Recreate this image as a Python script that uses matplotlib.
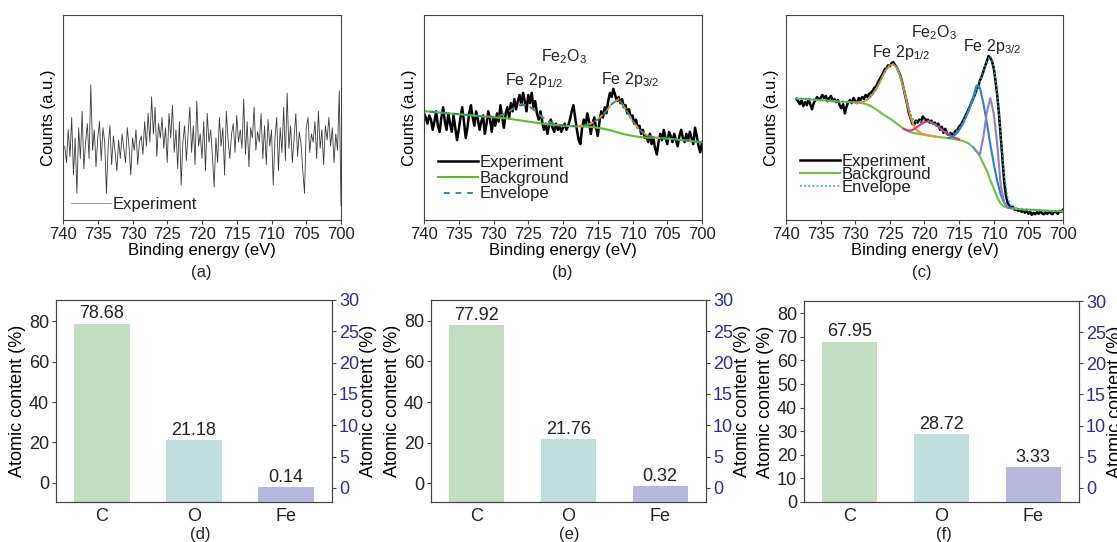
import numpy as np
import matplotlib
matplotlib.use("Agg")
from matplotlib import pyplot as plt

plt.rcParams["font.family"] = ["Liberation Sans", "DejaVu Sans"]
plt.rcParams["mathtext.fontset"] = "custom"
plt.rcParams["mathtext.rm"] = "Liberation Sans"
plt.rcParams["mathtext.it"] = "Liberation Sans:italic"
plt.rcParams["mathtext.bf"] = "Liberation Sans:bold"
plt.rcParams["axes.edgecolor"] = "#444444"
plt.rcParams["text.color"] = "#222222"
plt.rcParams["xtick.color"] = "#444444"
plt.rcParams["ytick.color"] = "#444444"
plt.rcParams["xtick.labelcolor"] = "#222222"
plt.rcParams["ytick.labelcolor"] = "#222222"

# ---- panel (a): survey of Fe 2p region, 739.75 -> 700 eV, 0.25 eV step (a.u.) ----
exp_a = [36, 28, 44, 31, 50, 22, 40, 13,
         45, 30, 53, 25, 38, 47, 30, 66,
         34, 44, 26, 40, 48, 29, 45, 38,
         13, 36, 46, 27, 41, 33, 24, 39,
         30, 42, 35, 28, 45, 36, 22, 40,
         34, 44, 27, 38, 41, 32, 48, 36,
         52, 38, 60, 42, 55, 31, 47, 40,
         50, 35, 45, 28, 52, 40, 56, 33,
         44, 25, 48, 17, 38, 46, 29, 42,
         55, 33, 46, 27, 58, 36, 42, 30,
         48, 24, 52, 38, 44, 31, 16, 40,
         28, 50, 36, 45, 22, 53, 39, 30,
         42, 47, 33, 51, 38, 44, 35, 59,
         32, 48, 26, 45, 40, 55, 34, 43,
         38, 52, 30, 46, 27, 49, 36, 44,
         17, 40, 50, 24, 45, 33, 55, 29,
         62, 35, 46, 28, 40, 52, 31, 43,
         37, 24, 13, 45, 50, 33, 42, 38,
         48, 30, 53, 35, 44, 27, 46, 39,
         50, 36, 45, 28, 42, 34, 63, 7]

# ---- panel (b): 740 -> 700 eV ----
exp_b = [52, 50, 47, 51, 49, 44, 48, 53, 46, 43, 50, 55, 48, 44, 52, 47,
         43, 51, 45, 39, 44, 50, 55, 48, 40, 45, 52, 56, 50, 46, 53, 49,
         44, 48, 51, 42, 47, 53, 49, 43, 50, 46, 52, 48, 56, 50, 45, 52,
         55, 50, 57, 53, 59, 54, 58, 61, 56, 62, 58, 53, 61, 57, 62, 55,
         58, 52, 49, 53, 48, 44, 47, 42, 46, 49, 45, 43, 47, 44, 46, 43,
         45, 47, 44, 46, 49, 53, 56, 50, 44, 39, 37, 45, 49, 46, 52, 48,
         42, 47, 50, 45, 41, 48, 53, 50, 55, 52, 58, 62, 60, 64, 61, 58,
         60, 57, 59, 55, 56, 52, 54, 50, 51, 47, 49, 45, 46, 42, 44, 40,
         41, 38, 42, 37, 40, 35, 32, 38, 42, 39, 44, 40, 37, 43, 41, 38,
         42, 39, 36, 41, 44, 40, 38, 42, 39, 43, 40, 37, 45, 41, 36, 33, 38]
bg_b = [53.1, 52.8, 52.5, 52.2, 51.9, 51.6, 51.3, 51.0, 50.7, 50.4, 50.1,
        49.8, 49.5, 49.0, 48.5, 48.0, 47.5, 47.0, 46.6, 46.3, 46.0, 45.8,
        45.7, 45.6, 45.4, 45.0, 44.4, 43.6, 42.6, 41.7, 41.0, 40.5, 40.2,
        40.1, 40.0, 39.7, 39.4, 39.0, 38.7, 38.3, 38.0]
env_b = [53.1, 52.8, 52.5, 52.2, 51.9, 51.6, 51.3, 51.0, 50.7, 50.4, 50.4,
         50.9, 52.5, 54.7, 56.4, 55.8, 53.3, 50.1, 47.8, 46.6, 46.0, 45.8,
         45.7, 46.1, 47.0, 49.0, 52.3, 56.5, 59.0, 54.2, 48.5, 44.0, 41.4,
         40.4, 40.0, 39.7, 39.4, 39.0, 38.7, 38.3, 38.0]
p12_b = [50.5, 50.4, 50.9, 52.5, 54.7, 56.4, 55.8, 53.3, 50.1, 47.8, 46.6, 46.0]   # 731 -> 720
p32_b = [45.7, 46.1, 47.0, 49.0, 52.3, 56.5, 59.0, 54.2, 48.5, 44.0, 41.4, 40.4, 40.0]  # 718 -> 706

# ---- panel (c): 738.5 -> 700 eV ----
exp_c = [59.0, 58.0, 56.5, 58.5, 55.5, 57.5, 56.0, 59.0, 56.5, 54.0, 57.0, 58.5,
         60.0, 58.5, 59.5, 61.0, 59.5, 60.5, 58.0, 59.5, 60.5, 58.0, 59.0, 57.5,
         58.5, 56.0, 54.5, 56.5, 52.0, 55.5, 57.5, 58.5, 57.0, 59.5, 58.0, 57.0,
         59.5, 58.5, 60.0, 59.0, 61.0, 60.0, 61.5, 62.0, 63.0, 64.5, 65.0, 67.0,
         68.5, 70.0, 71.5, 73.5, 74.0, 75.5, 75.0, 76.5, 77.0, 75.5, 74.5, 72.5,
         70.5, 67.5, 64.0, 60.0, 56.5, 52.0, 49.5, 47.0, 46.5, 48.5, 47.5, 49.0,
         48.0, 50.5, 49.5, 48.5, 49.0, 47.5, 48.5, 47.0, 47.5, 46.0, 47.0, 44.0,
         45.5, 42.5, 44.5, 42.0, 41.5, 42.5, 41.5, 42.5, 43.5, 44.0, 45.5, 46.5,
         48.0, 49.5, 51.5, 53.0, 55.0, 57.0, 59.0, 61.0, 63.5, 65.0, 68.0, 70.0,
         72.5, 75.0, 77.5, 80.0, 79.0, 77.5, 74.0, 68.0, 61.0, 52.0, 41.0, 30.0,
         19.0, 12.0, 8.5, 7.0, 6.0, 6.5, 5.0, 5.5, 4.5, 5.0, 4.0, 4.5,
         3.5, 4.5, 3.0, 4.0, 2.5, 3.5, 2.8, 3.8, 3.0, 4.2, 3.2, 2.8,
         3.8, 3.0, 4.0, 3.2, 2.8, 4.3, 3.8, 3.0, 4.5, 4.0, 5.0]
bg_c = [59.2, 59.1, 59.0, 58.9, 58.8, 58.7, 58.6, 58.4, 58.3, 58.2, 58.0, 57.9,
        57.8, 57.7, 57.6, 57.5, 57.4, 57.3, 57.2,
        57.0, 56.6, 56.0, 55.1, 54.0, 52.8, 51.6, 50.5, 49.5, 48.3, 47.0, 45.7,
        44.5, 43.5, 42.8, 42.4, 42.1, 41.8, 41.5, 41.2, 41.0, 40.7, 40.5, 40.3,
        40.1, 39.9, 39.6, 39.3, 39.0, 38.6, 38.0, 37.0, 35.6, 33.5, 31.0, 27.5,
        24.0, 19.5, 15.5, 11.0, 8.0, 6.6, 6.0, 5.7, 5.5,
        5.3, 5.2, 5.1, 5.05, 5.0, 4.9, 4.8, 4.7, 4.6, 4.5, 4.4, 4.35, 4.3, 4.2]
env_c = [59.4, 59.3, 59.2, 59.1, 59.0, 58.9, 58.8, 58.6, 58.5, 58.4, 58.2, 58.1,
         58.0, 57.9, 57.8, 57.7, 57.6, 57.5, 57.4,
         57.5, 58.3, 59.5, 61.3, 63.8, 67.0, 70.5, 73.6, 75.6, 76.0, 74.5, 70.5,
         64.5, 57.5, 51.5, 48.5, 47.8, 48.2, 48.6, 48.5, 48.0, 47.0, 45.8, 44.3,
         43.0, 42.3, 42.2, 43.0, 44.8, 47.5, 50.8, 54.5, 58.5, 63.0, 67.5, 72.5,
         77.5, 80.0, 75.0, 62.0, 42.0, 22.0, 11.0, 7.0, 5.8,
         5.4, 5.3, 5.2, 5.1, 5.0, 4.9, 4.8, 4.7, 4.6, 4.5, 4.4, 4.35, 4.3, 4.2]
p12_c = [57.3, 57.3, 57.4, 58.2, 59.4, 61.2, 63.7, 66.9, 70.4, 73.5, 75.5, 75.9,
         74.3, 70.2, 64.0, 56.8, 50.0, 45.8, 43.5, 42.3, 41.7, 41.3, 41.0, 40.7, 40.5]  # 730 -> 718
sat_c = [44.5, 43.8, 43.6, 44.3, 45.5, 46.8, 47.7, 48.0, 47.6, 46.6, 45.4, 44.0,
         42.7, 41.6, 40.7, 40.0, 39.4]  # 723 -> 715
p32a_c = [40.0, 40.6, 41.8, 43.8, 46.6, 50.2, 54.4, 59.5, 65.5, 64.5, 57.0, 47.4,
          37.0, 27.5, 19.0, 12.5, 8.5, 6.5, 5.8]  # 716.5 -> 707.5
p32b_c = [35.6, 33.6, 32.0, 40.5, 52.5, 59.5, 52.0, 37.0, 17.0, 8.5, 6.2]  # 713 -> 708

# ---- panels (d)-(f): atomic content ----
elements = ["C", "O", "Fe"]
content_d = [78.68, 21.18, 0.14]
content_e = [77.92, 21.76, 0.32]
content_f = [67.95, 28.72, 3.33]
bar_colors = ["#c2dec0", "#c0dedd", "#b8b8df"]

W, H = 1117, 542
fig = plt.figure(figsize=(W / 100, H / 100), dpi=100)
FS_TOP = 12
FS_BAR = 13


def box(x0, y0, x1, y1):
    return [x0 / W, (H - y1) / H, (x1 - x0) / W, (y1 - y0) / H]


def spectrum_axes(rect):
    ax = fig.add_axes(rect)
    ax.set_xlim(740, 700)
    ax.set_ylim(0, 100)
    ax.set_xticks(np.arange(740, 699, -5))
    ax.set_yticks([])
    ax.tick_params(axis="x", direction="out", length=3, width=0.8, labelsize=FS_TOP, pad=2)
    ax.set_xlabel("Binding energy (eV)", fontsize=FS_TOP, labelpad=1)
    ax.set_ylabel("Counts (a.u.)", fontsize=FS_TOP, labelpad=5)
    return ax


def spectrum_legend(ax, anchor, spacing):
    ax.legend(loc="lower left", frameon=False, fontsize=FS_TOP, handlelength=2.4,
              handletextpad=0.1, labelspacing=spacing, borderaxespad=0.1,
              bbox_to_anchor=anchor)


# (a)
ax_a = spectrum_axes(box(63, 15, 341, 220))
ax_a.plot(np.linspace(739.75, 700, len(exp_a)), exp_a, color="#3a3a3a", lw=0.6, label="Experiment")
spectrum_legend(ax_a, (0.0, 0.0), 0.1)
for l in ax_a.get_legend().get_lines():
    l.set_color("#888888")

# (b)
ax_b = spectrum_axes(box(424, 15, 702, 220))
e_b = np.linspace(740, 700, len(bg_b))
ax_b.plot(np.linspace(740, 700, len(exp_b)), exp_b, color="black", lw=1.8, label="Experiment")
ax_b.plot(e_b, bg_b, color="#5cbd2e", lw=1.5, label="Background")
ax_b.plot(np.linspace(731, 720, len(p12_b)), p12_b, color="#e8372c", lw=1.4, ls=(0, (3, 3)))
ax_b.plot(np.linspace(718, 706, len(p32_b)), p32_b, color="#f08a24", lw=1.4, ls=(0, (3, 3)))
ax_b.plot(e_b, env_b, color="#2a8f9f", lw=1.4, ls=(3, (3, 3)), label="Envelope")
spectrum_legend(ax_b, (0.02, 0.05), 0.05)
ax_b.text(719.9, 79.8, "Fe$_2$O$_3$", ha="center", va="center", fontsize=11.5)
ax_b.text(724.2, 68.1, "Fe 2p$_{1/2}$", ha="center", va="center", fontsize=11.5)
ax_b.text(710.4, 68.4, "Fe 2p$_{3/2}$", ha="center", va="center", fontsize=11.5)

# (c)
ax_c = spectrum_axes(box(786, 15, 1063, 220))
e_c = np.linspace(738.5, 700, len(bg_c))
ax_c.plot(np.linspace(738.5, 700, len(exp_c)), exp_c, color="black", lw=1.8, label="Experiment")
ax_c.plot(e_c, bg_c, color="#6cc33a", lw=1.5, label="Background")
ax_c.plot(np.linspace(730, 718, len(p12_c)), p12_c, color="#f29233", lw=1.5)
ax_c.plot(np.linspace(723, 715, len(sat_c)), sat_c, color="#e0358a", lw=1.5)
ax_c.plot(np.linspace(716.5, 707.5, len(p32a_c)), p32a_c, color="#2f7fc4", lw=1.5)
ax_c.plot(np.linspace(713, 708, len(p32b_c)), p32b_c, color="#8a80c8", lw=1.5)
ax_c.plot(e_c, env_c, color="#2aa0a8", lw=1.2, ls=(0, (1, 1.5)), label="Envelope")
spectrum_legend(ax_c, (0.02, 0.08), -0.1)
ax_c.text(718.6, 91.3, "Fe$_2$O$_3$", ha="center", va="center", fontsize=11.5)
ax_c.text(723.4, 81.6, "Fe 2p$_{1/2}$", ha="center", va="center", fontsize=11.5)
ax_c.text(710.3, 84.6, "Fe 2p$_{3/2}$", ha="center", va="center", fontsize=11.5)


def bar_panel(rect, vals, ylim_left, yticks_left):
    ax = fig.add_axes(rect)
    ax2 = ax.twinx()
    x = np.arange(len(elements))
    lo = ylim_left[0]
    ax.set_xlim(-0.5, 2.5)
    ax.set_ylim(*ylim_left)
    ax2.set_ylim(-2.25, 30)
    ax.bar(x[:2], np.array(vals[:2]) - lo, bottom=lo, width=0.6, color=bar_colors[:2])
    ax2.bar(x[2:], [vals[2] + 2.25], bottom=-2.25, width=0.6, color=bar_colors[2])
    for xi, v in zip(x[:2], vals[:2]):
        ax.annotate(f"{v:.2f}", (xi, v), xytext=(0, 1), textcoords="offset points",
                    ha="center", va="bottom", fontsize=FS_BAR)
    ax2.annotate(f"{vals[2]:.2f}", (x[2], vals[2]), xytext=(0, 1), textcoords="offset points",
                 ha="center", va="bottom", fontsize=FS_BAR)
    ax.set_xticks(x)
    ax.set_xticklabels(elements)
    ax.set_yticks(yticks_left)
    ax2.set_yticks(np.arange(0, 31, 5))
    ax.tick_params(axis="x", length=0, labelsize=FS_BAR, pad=4)
    ax.tick_params(axis="y", direction="out", length=3, width=0.8, labelsize=FS_BAR, pad=2)
    ax2.tick_params(axis="y", direction="out", length=3, width=0.8, labelsize=FS_BAR, pad=2,
                    labelcolor="#2b2f8f")
    ax.set_ylabel("Atomic content (%)", fontsize=FS_BAR, labelpad=2)
    ax2.set_ylabel("Atomic content (%)", fontsize=FS_BAR, labelpad=1)
    return ax


bar_panel(box(56, 300, 332, 502), content_d, (-9.4, 90.4), np.arange(0, 81, 20))
bar_panel(box(431, 300, 706, 502), content_e, (-9.2, 90.2), np.arange(0, 81, 20))
bar_panel(box(804, 301, 1079, 502), content_f, (0, 85.2), np.arange(0, 81, 10))

for label, cx, cy in [("(a)", 201, 272), ("(b)", 562, 272), ("(c)", 922, 272),
                      ("(d)", 200, 535), ("(e)", 569, 535), ("(f)", 944, 535)]:
    fig.text(cx / W, 1 - cy / H, label, ha="center", va="center", fontsize=FS_TOP)

fig.savefig("out.png", dpi=100)
